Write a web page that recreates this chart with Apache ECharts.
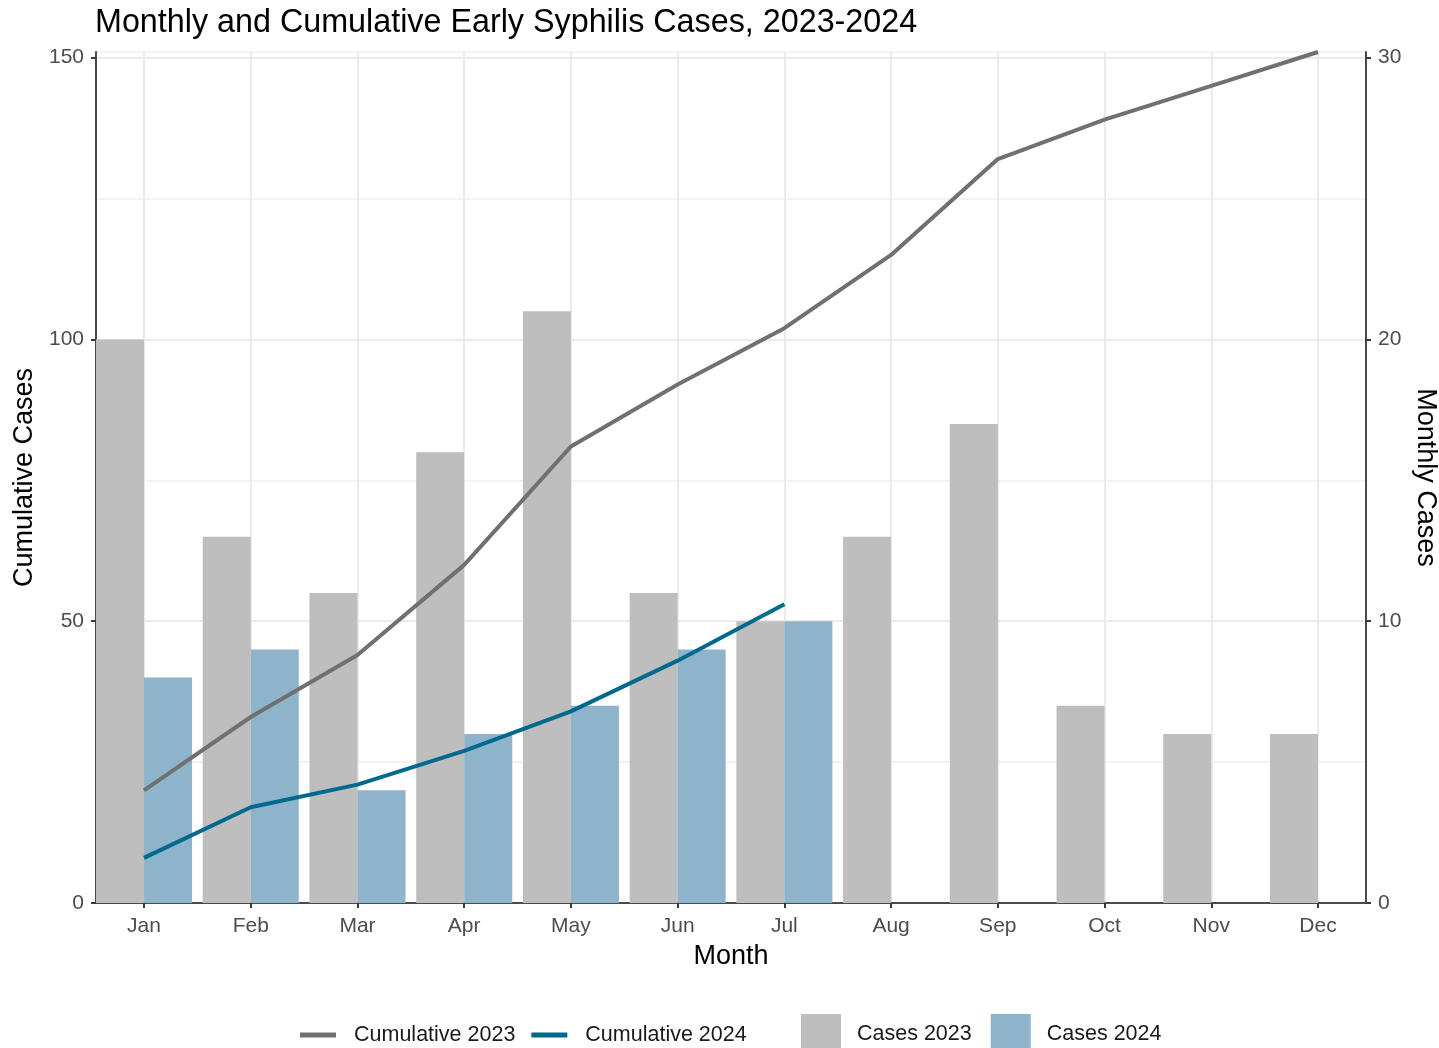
<!DOCTYPE html>
<html>
<head>
<meta charset="utf-8">
<script src="https://cdn.jsdelivr.net/npm/echarts@6/dist/echarts.min.js"></script>
<style>
  html, body { margin: 0; padding: 0; background: #fff; }
  #chart { width: 1439px; height: 1048px; }
</style>
</head>
<body>
<div id="chart"></div>
<script>
const months = ['Jan', 'Feb', 'Mar', 'Apr', 'May', 'Jun', 'Jul', 'Aug', 'Sep', 'Oct', 'Nov', 'Dec']
const cases2023 = [20, 13, 11, 16, 21, 11, 10, 13, 17, 7, 6, 6]
const cases2024 = [8, 9, 4, 6, 7, 9, 10]
const cumulative2023 = [20, 33, 44, 60, 81, 92, 102, 115, 132, 139, 145, 151]
const cumulative2024 = [8, 17, 21, 27, 34, 43, 53]
const leftTicks = [0, 50, 100, 150]
const rightTicks = [0, 10, 20, 30]

const FONT = "'Liberation Sans', Arial, sans-serif"
const monthPos = months.map((m, i) => i)
const pair = (arr) => arr.map((v, i) => [i, v])

const chart = echarts.init(document.getElementById('chart'))

const axisLineStyle = { color: '#4a4a4a', width: 2 }
const tickStyle = { color: '#3a3a3a', width: 2 }

chart.setOption({
  animation: false,
  backgroundColor: '#fff',
  textStyle: { fontFamily: FONT },
  title: {
    text: 'Monthly and Cumulative Early Syphilis Cases, 2023-2024',
    left: 90,
    top: 2,
    textStyle: { fontFamily: FONT, fontSize: 32.3, fontWeight: 'normal', color: '#000' },
  },
  grid: {
    left: 96,
    right: 73,
    top: 52,
    bottom: 145,
    outerBoundsMode: 'none',
    show: true,
    borderColor: '#a0a0a0',
    borderWidth: 1,
  },
  legend: [
    {
      data: ['Cumulative 2023', 'Cumulative 2024'],
      left: 300,
      top: 1024,
      padding: 0,
      icon: 'rect',
      itemWidth: 36,
      itemHeight: 5,
      itemGap: 16,
      textStyle: { fontFamily: FONT, fontSize: 21.5, color: '#1a1a1a', padding: [0, 0, 0, 13] },
    },
    {
      data: ['Cases 2023', 'Cases 2024'],
      left: 801,
      top: 1014,
      padding: 0,
      icon: 'rect',
      itemWidth: 40,
      itemHeight: 40,
      itemGap: 19,
      textStyle: { fontFamily: FONT, fontSize: 21.5, color: '#1a1a1a', padding: [0, 0, 0, 11] },
    },
  ],
  xAxis: {
    type: 'value',
    min: -0.45,
    max: 11.45,
    name: 'Month',
    nameLocation: 'middle',
    nameGap: 40,
    nameTextStyle: { fontFamily: FONT, fontSize: 27, color: '#000' },
    axisLine: { show: true, lineStyle: axisLineStyle },
    axisTick: { show: true, length: 5, customValues: monthPos, lineStyle: tickStyle },
    axisLabel: {
      customValues: monthPos,
      formatter: (v) => months[Math.round(v)],
      fontFamily: FONT,
      fontSize: 21,
      color: '#4d4d4d',
      margin: 13,
    },
    splitLine: { show: true, lineStyle: { color: '#ebebeb', width: 2 } },
  },
  yAxis: [
    {
      // minor horizontal grid
      type: 'value',
      position: 'left',
      min: 0,
      max: 151,
      interval: 25,
      axisLine: { show: false },
      axisTick: { show: false },
      axisLabel: { show: false },
      splitLine: { show: true, lineStyle: { color: '#f3f3f3', width: 2 } },
    },
    {
      type: 'value',
      position: 'left',
      min: 0,
      max: 151,
      interval: 50,
      name: 'Cumulative Cases',
      nameLocation: 'middle',
      nameGap: 58,
      nameTextStyle: { fontFamily: FONT, fontSize: 27, color: '#000' },
      axisLine: { show: true, lineStyle: axisLineStyle },
      axisTick: { show: true, length: 5, customValues: leftTicks, lineStyle: tickStyle },
      axisLabel: { customValues: leftTicks, fontFamily: FONT, fontSize: 21, color: '#4d4d4d', margin: 12 },
      splitLine: { show: true, lineStyle: { color: '#ebebeb', width: 2 } },
    },
    {
      type: 'value',
      position: 'right',
      min: 0,
      max: 30.2,
      interval: 10,
      name: 'Monthly Cases',
      nameLocation: 'middle',
      nameRotate: -90,
      nameGap: 41,
      nameTextStyle: { fontFamily: FONT, fontSize: 27, color: '#000' },
      axisLine: { show: true, lineStyle: axisLineStyle },
      axisTick: { show: true, length: 5, customValues: rightTicks, lineStyle: tickStyle },
      axisLabel: { customValues: rightTicks, fontFamily: FONT, fontSize: 21, color: '#4d4d4d', margin: 12 },
      splitLine: { show: false },
    },
  ],
  series: [
    {
      name: 'Cases 2023',
      type: 'bar',
      yAxisIndex: 2,
      barWidth: '45%',
      barGap: '0%',
      data: pair(cases2023),
      itemStyle: { color: '#bebebe' },
    },
    {
      name: 'Cases 2024',
      type: 'bar',
      yAxisIndex: 2,
      barWidth: '45%',
      barGap: '0%',
      data: pair(cases2024),
      itemStyle: { color: '#8db4cb' },
    },
    {
      name: 'Cumulative 2023',
      type: 'line',
      yAxisIndex: 1,
      showSymbol: false,
      symbol: 'none',
      data: pair(cumulative2023),
      lineStyle: { color: '#707070', width: 4 },
      itemStyle: { color: '#707070' },
      z: 5,
    },
    {
      name: 'Cumulative 2024',
      type: 'line',
      yAxisIndex: 1,
      showSymbol: false,
      symbol: 'none',
      data: pair(cumulative2024),
      lineStyle: { color: '#006a8e', width: 4 },
      itemStyle: { color: '#006a8e' },
      z: 5,
    },
  ],
})
</script>
</body>
</html>
